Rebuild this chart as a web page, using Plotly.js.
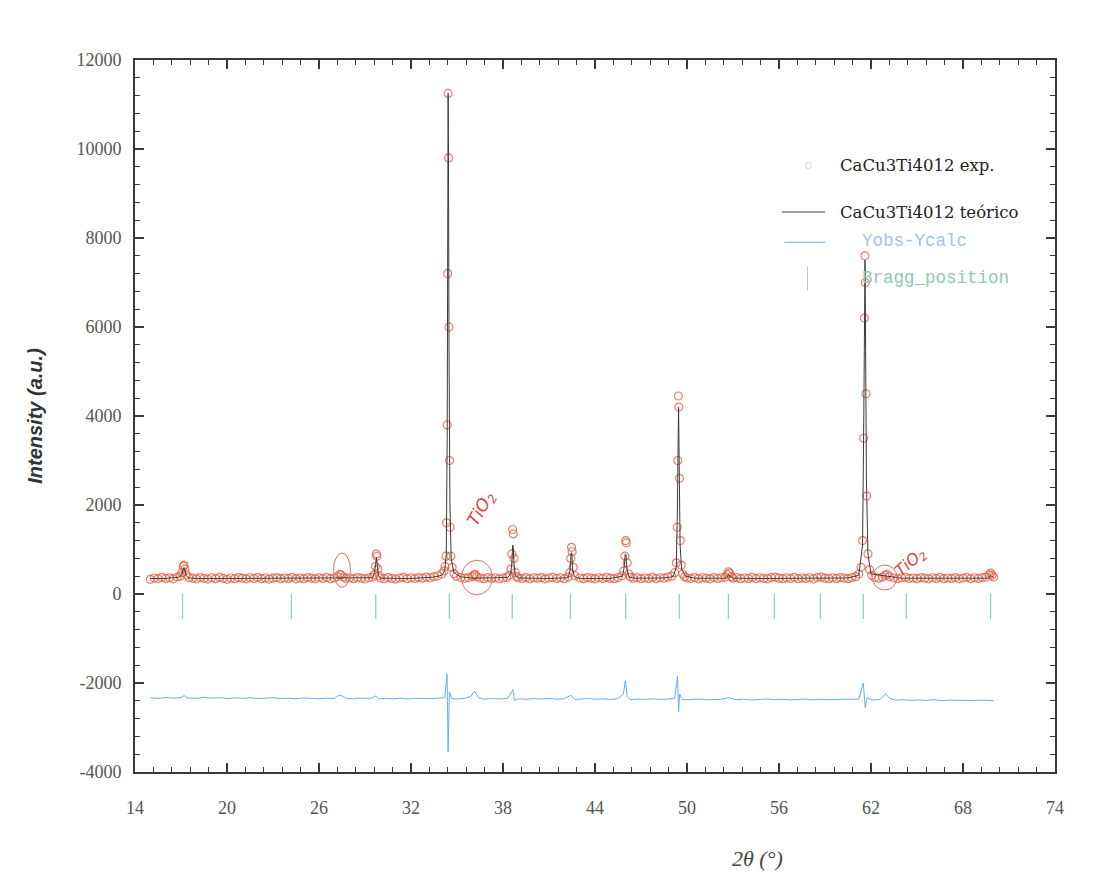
<!DOCTYPE html>
<html>
<head>
<meta charset="utf-8">
<script src="https://cdn.plot.ly/plotly-3.0.1.min.js"></script>
<style>html,body{margin:0;padding:0;background:#fff;}#chart{width:1103px;height:891px;}</style>
</head>
<body>
<div id="chart"></div>
<script>
// Experimental pattern (2θ, intensity)
const expX = [15,15.25,15.5,15.75,16,16.25,16.5,16.75,16.95,17.05,
17.15,17.2,17.25,17.35,17.5,17.75,18,18.25,18.5,18.75,
19,19.25,19.5,19.75,20,20.25,20.5,20.75,21,21.25,
21.5,21.75,22,22.25,22.5,22.75,23,23.25,23.5,23.75,
24,24.25,24.5,24.75,25,25.25,25.5,25.75,26,26.25,
26.5,26.75,27,27.2,27.35,27.45,27.6,27.75,28,28.25,
28.5,28.75,29,29.25,29.5,29.6,29.68,29.74,29.78,29.84,
29.92,30,30.25,30.5,30.75,31,31.25,31.5,31.75,32,
32.25,32.5,32.75,33,33.25,33.5,33.75,34,34.15,34.22,
34.28,34.32,34.36,34.39,34.42,34.45,34.48,34.51,34.55,34.6,
34.68,34.8,34.95,35.25,35.5,35.75,36,36.1,36.2,36.3,
36.5,36.75,37,37.25,37.5,37.75,38,38.25,38.4,38.52,
38.58,38.63,38.67,38.72,38.8,38.9,39,39.25,39.5,39.75,
40,40.25,40.5,40.75,41,41.25,41.5,41.75,42,42.25,
42.35,42.42,42.47,42.51,42.58,42.68,43,43.25,43.5,43.75,
44,44.25,44.5,44.75,45,45.25,45.5,45.75,45.88,45.95,
46,46.04,46.1,46.2,46.3,46.5,46.75,47,47.25,47.5,
47.75,48,48.25,48.5,48.75,49,49.2,49.3,49.36,49.4,
49.44,49.47,49.51,49.56,49.62,49.72,49.85,50,50.25,50.5,
50.75,51,51.25,51.5,51.75,52,52.25,52.5,52.62,52.7,
52.78,52.9,53,53.25,53.5,53.75,54,54.25,54.5,54.75,
55,55.25,55.5,55.75,56,56.25,56.5,56.75,57,57.25,
57.5,57.75,58,58.25,58.5,58.75,59,59.25,59.5,59.75,
60,60.25,60.5,60.75,61,61.2,61.35,61.45,61.52,61.57,
61.6,61.63,61.67,61.72,61.8,61.9,62.05,62.25,62.5,62.75,
62.9,63.05,63.2,63.5,63.75,64,64.25,64.5,64.75,65,
65.25,65.5,65.75,66,66.25,66.5,66.75,67,67.25,67.5,
67.75,68,68.25,68.5,68.75,69,69.25,69.5,69.7,69.8,
69.9,70];
const expY = [330,360,345,375,350,365,340,380,400,480,
620,650,560,430,370,355,340,370,350,335,
365,345,375,350,330,360,345,370,355,340,
365,350,375,345,360,335,355,370,345,360,
350,375,340,360,345,370,355,340,365,350,
375,345,360,390,440,430,380,350,365,345,
370,355,340,365,380,430,620,900,850,560,
410,360,345,370,350,335,360,375,345,365,
350,370,355,380,365,390,410,450,520,620,
850,1600,3800,7200,11250,9800,6000,3000,1500,850,
600,460,400,370,355,370,390,430,440,390,
360,345,370,350,365,340,360,375,420,560,
900,1450,1350,800,480,390,360,350,370,345,
365,355,370,340,360,375,350,365,345,380,
480,800,1050,950,600,410,360,345,370,355,
340,365,350,375,355,345,370,410,520,850,
1200,1150,700,450,380,355,370,345,360,350,
375,345,365,355,380,400,480,700,1500,3000,
4450,4200,2600,1200,650,450,390,360,350,370,
345,365,355,340,370,350,365,380,440,500,
470,390,355,370,345,360,350,375,345,365,
350,340,370,380,355,345,365,350,375,345,
360,350,365,340,370,385,355,345,365,350,
370,355,345,370,390,450,600,1200,3500,6200,
7600,7000,4500,2200,900,550,420,370,355,380,
420,440,390,360,345,365,375,350,360,345,
370,355,340,365,350,375,345,360,350,370,
340,360,375,345,365,350,370,380,430,470,
420,380];

// Calculated pattern
const calcX = [15,16,16.9,17.05,17.15,17.2,17.25,17.35,17.5,18,
20,22,24,26,28,29.5,29.62,29.7,29.75,29.8,
29.88,30,32,33.5,34,34.2,34.3,34.36,34.4,34.42,
34.44,34.48,34.54,34.62,34.8,35.2,36,38.3,38.5,38.58,
38.63,38.67,38.72,38.8,39,41,42.25,42.38,42.44,42.48,
42.54,42.65,43,45,45.8,45.9,45.97,46.02,46.08,46.2,
46.5,48.5,49.1,49.3,49.37,49.42,49.45,49.49,49.55,49.65,
49.9,50.5,52.5,52.65,52.72,52.8,53,55,58,60.5,
61.2,61.45,61.53,61.58,61.61,61.65,61.7,61.8,62,64,
66,68,69.6,69.8,70];
const calcY = [350,350,380,450,560,600,520,410,360,350,
350,350,350,350,350,365,480,780,820,640,
420,355,350,380,420,520,900,3500,9000,11250,
10200,5500,2000,800,480,390,355,370,450,700,
1100,1050,650,420,360,350,365,550,900,930,
560,390,350,350,400,600,900,880,560,390,
355,360,390,600,1800,3800,4200,2900,1100,560,
400,355,355,410,430,400,355,350,350,360,
420,1100,4000,7000,7500,5500,2600,900,450,355,
350,350,355,420,360];

// Difference curve Yobs-Ycalc (offset)
const diffX = [15,15.5,16,16.5,17,17.2,17.4,18,18.5,19,
19.5,20,20.5,21,21.5,22,22.5,23,23.5,24,
24.5,25,25.5,26,26.5,27,27.3,27.5,27.8,28.2,
28.6,29,29.4,29.7,29.9,30.3,30.8,31.3,31.8,32.3,
32.8,33.3,33.8,34.2,34.35,34.42,34.5,34.65,35,35.5,
35.9,36.15,36.4,36.8,37.3,37.8,38.3,38.55,38.65,38.75,
39,39.5,40,40.5,41,41.5,42,42.4,42.5,42.7,
43,43.5,44,44.5,45,45.5,45.85,45.98,46.1,46.3,
46.8,47.3,47.8,48.3,48.8,49.2,49.38,49.45,49.52,49.7,
50.2,50.7,51.2,51.7,52.2,52.7,53.2,53.7,54.2,54.7,
55.2,55.7,56.2,56.7,57.2,57.7,58.2,58.7,59.2,59.7,
60.2,60.7,61.2,61.5,61.62,61.75,62.1,62.6,62.95,63.2,
63.6,64.1,64.6,65.1,65.6,66.1,66.6,67.1,67.6,68.1,
68.6,69.1,69.6,70];
const diffY = [-2330,-2345,-2325,-2340,-2330,-2280,-2335,-2345,-2325,-2340,
-2330,-2350,-2335,-2345,-2330,-2350,-2340,-2330,-2350,-2340,
-2355,-2335,-2345,-2355,-2340,-2350,-2270,-2290,-2345,-2355,
-2340,-2350,-2345,-2290,-2360,-2345,-2355,-2340,-2360,-2345,
-2355,-2350,-2340,-2330,-1800,-3550,-2200,-2350,-2360,-2345,
-2300,-2180,-2330,-2365,-2350,-2360,-2345,-2200,-2150,-2390,
-2355,-2365,-2350,-2360,-2345,-2365,-2355,-2280,-2300,-2370,
-2360,-2350,-2365,-2355,-2370,-2350,-2250,-1950,-2300,-2375,
-2360,-2370,-2355,-2370,-2360,-2340,-1850,-2650,-2250,-2370,
-2375,-2360,-2375,-2365,-2370,-2330,-2375,-2365,-2380,-2370,
-2360,-2375,-2365,-2380,-2370,-2360,-2380,-2365,-2375,-2370,
-2380,-2370,-2360,-2000,-2550,-2330,-2385,-2370,-2240,-2340,
-2385,-2375,-2390,-2380,-2390,-2375,-2395,-2385,-2390,-2380,
-2395,-2385,-2390,-2395];

// Bragg reflections
const braggX = [17.1,24.2,29.7,34.5,38.6,42.4,46.0,49.5,52.7,55.7,58.7,61.5,64.3,69.8];
const braggY = [-280,-280,-280,-280,-280,-280,-280,-280,-280,-280,-280,-280,-280,-280];

// Tick values
const xTickVals = [14,20,26,32,38,44,50,56,62,68,74];
const yTickVals = [-4000,-2000,0,2000,4000,6000,8000,10000,12000];

// Legend labels
const legendLabels = ['CaCu3Ti4012 exp.', 'CaCu3Ti4012 teórico', 'Yobs-Ycalc', 'Bragg_position'];

const RED = 'rgba(228,96,70,0.8)';
const BLUE = '#6aaee6';
const TEAL = '#8fd0c6';

const traces = [
  {x: braggX, y: braggY, type: 'scatter', mode: 'markers', name: legendLabels[3],
   marker: {symbol: 'line-ns-open', size: 18, color: TEAL, line: {color: TEAL, width: 1.3}}, showlegend: false},
  {x: diffX, y: diffY, type: 'scatter', mode: 'lines', name: legendLabels[2],
   line: {color: BLUE, width: 1}, showlegend: false},
  {x: expX, y: expY, type: 'scatter', mode: 'markers', name: legendLabels[0],
   marker: {symbol: 'circle-open', size: 8, color: RED, line: {color: RED, width: 1.2}}, showlegend: false},
  {x: calcX, y: calcY, type: 'scatter', mode: 'lines', name: legendLabels[1],
   line: {color: '#3a3a3a', width: 1}, showlegend: false}
];

const tickFont = {family: 'Liberation Serif, serif', size: 18, color: '#555'};
const axisCommon = {
  showline: true, linecolor: '#3a3a3a', linewidth: 2, mirror: 'allticks',
  ticks: 'inside', ticklen: 9, tickwidth: 2, tickcolor: '#3a3a3a',
  showgrid: false, zeroline: false, tickfont: tickFont
};

const ann = [
  // legend texts
  {xref: 'paper', yref: 'paper', x: 0.764, y: 0.8525, xanchor: 'left', yanchor: 'middle', showarrow: false,
   text: legendLabels[0], font: {family: 'DejaVu Serif, serif', size: 16.5, color: '#222'}},
  {xref: 'paper', yref: 'paper', x: 0.764, y: 0.7865, xanchor: 'left', yanchor: 'middle', showarrow: false,
   text: legendLabels[1], font: {family: 'DejaVu Serif, serif', size: 16.5, color: '#222'}},
  {xref: 'paper', yref: 'paper', x: 0.788, y: 0.746, xanchor: 'left', yanchor: 'middle', showarrow: false,
   text: legendLabels[2], font: {family: 'Liberation Mono, monospace', size: 17.5, color: '#9cc4e8'}},
  {xref: 'paper', yref: 'paper', x: 0.788, y: 0.694, xanchor: 'left', yanchor: 'middle', showarrow: false,
   text: legendLabels[3], font: {family: 'Liberation Mono, monospace', size: 17.5, color: '#8cc9b8'}},
  // handwritten notes
  {xref: 'x', yref: 'y', x: 36.6, y: 1900, showarrow: false, textangle: -60,
   text: 'TiO<sub>2</sub>', font: {family: 'DejaVu Sans, sans-serif', size: 17, color: '#d9443a', style: 'italic'}},
  {xref: 'x', yref: 'y', x: 64.6, y: 700, showarrow: false, textangle: -42,
   text: 'TiO<sub>2</sub>', font: {family: 'DejaVu Sans, sans-serif', size: 16, color: '#d9443a', style: 'italic'}},
  // x title
  {xref: 'paper', yref: 'paper', x: 0.677, y: -0.121, xanchor: 'center', yanchor: 'middle', showarrow: false,
   text: '2θ (°)', font: {family: 'Liberation Serif, serif', size: 22, color: '#444', style: 'italic'}}
];

const shapes = [
  // legend samples
  {type: 'circle', xref: 'paper', yref: 'paper', x0: 0.729, x1: 0.735, y0: 0.847, y1: 0.857,
   line: {color: '#d8d8d8', width: 1}},
  {type: 'line', xref: 'paper', yref: 'paper', x0: 0.703, x1: 0.75, y0: 0.7865, y1: 0.7865,
   line: {color: '#444', width: 1}},
  {type: 'line', xref: 'paper', yref: 'paper', x0: 0.706, x1: 0.75, y0: 0.744, y1: 0.744,
   line: {color: BLUE, width: 1}},
  {type: 'line', xref: 'paper', yref: 'paper', x0: 0.731, x1: 0.731, y0: 0.677, y1: 0.711,
   line: {color: '#c8c8c8', width: 1}},
  // hand-drawn circles around TiO2 reflections
  {type: 'circle', xref: 'x', yref: 'y', x0: 26.95, x1: 28.05, y0: 150, y1: 920,
   line: {color: '#e07060', width: 1}},
  {type: 'circle', xref: 'x', yref: 'y', x0: 35.3, x1: 37.3, y0: -20, y1: 760,
   line: {color: '#e07060', width: 1}},
  {type: 'circle', xref: 'x', yref: 'y', x0: 62.1, x1: 63.7, y0: 90, y1: 650,
   line: {color: '#e07060', width: 1}}
];

const layout = {
  width: 1103, height: 891,
  paper_bgcolor: '#ffffff', plot_bgcolor: '#ffffff',
  margin: {l: 135, r: 48, t: 60, b: 119},
  showlegend: false,
  xaxis: Object.assign({}, axisCommon, {
    range: [14, 74], tickmode: 'array', tickvals: xTickVals, ticktext: xTickVals.map(String),
    ticklabelstandoff: 18,
    minor: {ticks: 'inside', ticklen: 5, tickwidth: 1.2, tickcolor: '#3a3a3a', dtick: 1.2, tick0: 14, showgrid: false}
  }),
  yaxis: Object.assign({}, axisCommon, {
    range: [-4000, 12000], tickmode: 'array', tickvals: yTickVals, ticktext: yTickVals.map(String),
    ticklabelstandoff: 8,
    minor: {ticks: 'inside', ticklen: 5, tickwidth: 1.2, tickcolor: '#3a3a3a', dtick: 400, tick0: 0, showgrid: false},
    title: {text: 'Intensity (a.u.)', standoff: 28,
      font: {family: 'Liberation Sans Narrow, Liberation Sans, sans-serif', size: 20, color: '#333', weight: 'bold', style: 'italic'}}
  }),
  annotations: ann,
  shapes: shapes
};

Plotly.newPlot('chart', traces, layout, {displayModeBar: false, staticPlot: true});
</script>
</body>
</html>
